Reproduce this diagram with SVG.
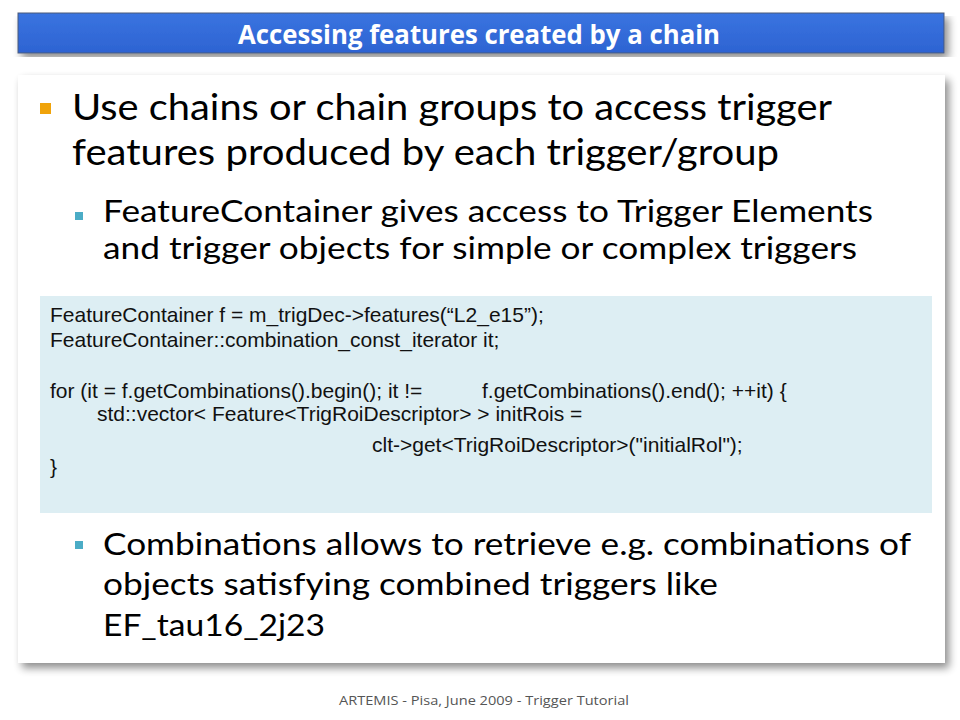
<svg xmlns="http://www.w3.org/2000/svg" width="960" height="720" viewBox="0 0 960 720">
<defs>
<filter id="sh" x="-5%" y="-5%" width="112%" height="115%">
<feGaussianBlur in="SourceAlpha" stdDeviation="4"/>
<feOffset dx="4" dy="5" result="b"/>
<feComponentTransfer><feFuncA type="linear" slope="0.45"/></feComponentTransfer>
<feMerge><feMergeNode/><feMergeNode in="SourceGraphic"/></feMerge>
</filter>
<linearGradient id="tg" x1="0" y1="0" x2="0" y2="1">
<stop offset="0" stop-color="#3a74e0"/>
<stop offset="1" stop-color="#2d63d2"/>
</linearGradient>
</defs>
<style>
.l1{font-family:Lato,"Open Sans","Noto Sans",sans-serif;font-size:36px;fill:#000}
.l2{font-family:Lato,"Open Sans","Noto Sans",sans-serif;font-size:31px;fill:#000}
.code{font-family:"Liberation Sans",Arial,sans-serif;font-size:21px;fill:#111}
</style>
<rect width="960" height="720" fill="#fff"/>
<g id="title">
<rect x="18" y="13" width="926" height="40" fill="url(#tg)" stroke="#4a5a7a" stroke-width="1" filter="url(#sh)"/>
<text x="479" y="44" text-anchor="middle" font-family="'Open Sans','Liberation Sans',sans-serif" font-weight="bold" font-size="27" fill="#fff" textLength="482" lengthAdjust="spacingAndGlyphs">Accessing features created by a chain</text>
</g>
<g id="panel">
<rect x="18" y="75" width="927" height="588" fill="#fff" filter="url(#sh)"/>
</g>
<g id="bullets">
<rect x="40" y="103" width="11" height="11" fill="#f0a30a"/>
<text class="l1" x="72" y="120" textLength="760" lengthAdjust="spacingAndGlyphs">Use chains or chain groups to access trigger</text>
<text class="l1" x="72" y="165" textLength="707" lengthAdjust="spacingAndGlyphs">features produced by each trigger/group</text>
<rect x="75" y="212" width="8" height="8" fill="#4bacc6"/>
<text class="l2" x="103" y="222" textLength="770" lengthAdjust="spacingAndGlyphs">FeatureContainer gives access to Trigger Elements</text>
<text class="l2" x="103" y="259" textLength="754" lengthAdjust="spacingAndGlyphs">and trigger objects for simple or complex triggers</text>
<rect x="75" y="541" width="8" height="8" fill="#4bacc6"/>
<text class="l2" x="103" y="555" textLength="808" lengthAdjust="spacingAndGlyphs">Combinations allows to retrieve e.g. combinations of</text>
<text class="l2" x="103" y="595" textLength="615" lengthAdjust="spacingAndGlyphs">objects satisfying combined triggers like</text>
<text class="l2" x="103" y="636" textLength="222" lengthAdjust="spacingAndGlyphs">EF_tau16_2j23</text>
</g>
<g id="codebox">
<rect x="40" y="296" width="892" height="217" fill="#ddeef3"/>
<text class="code" x="50" y="322">FeatureContainer f = m_trigDec-&gt;features(“L2_e15”);</text>
<text class="code" x="50" y="347">FeatureContainer::combination_const_iterator it;</text>
<text class="code" x="50" y="398">for (it = f.getCombinations().begin(); it !=</text>
<text class="code" x="482" y="398">f.getCombinations().end(); ++it) {</text>
<text class="code" x="97" y="421">std::vector&lt; Feature&lt;TrigRoiDescriptor&gt; &gt; initRois =</text>
<text class="code" x="372" y="452">clt-&gt;get&lt;TrigRoiDescriptor&gt;("initialRol");</text>
<text class="code" x="50" y="474">}</text>
</g>
<g id="footer">
<text x="484" y="705" text-anchor="middle" font-family="'Open Sans','Liberation Sans',sans-serif" font-size="13" fill="#555" textLength="290" lengthAdjust="spacingAndGlyphs">ARTEMIS - Pisa, June 2009 - Trigger Tutorial</text>
</g>
</svg>
